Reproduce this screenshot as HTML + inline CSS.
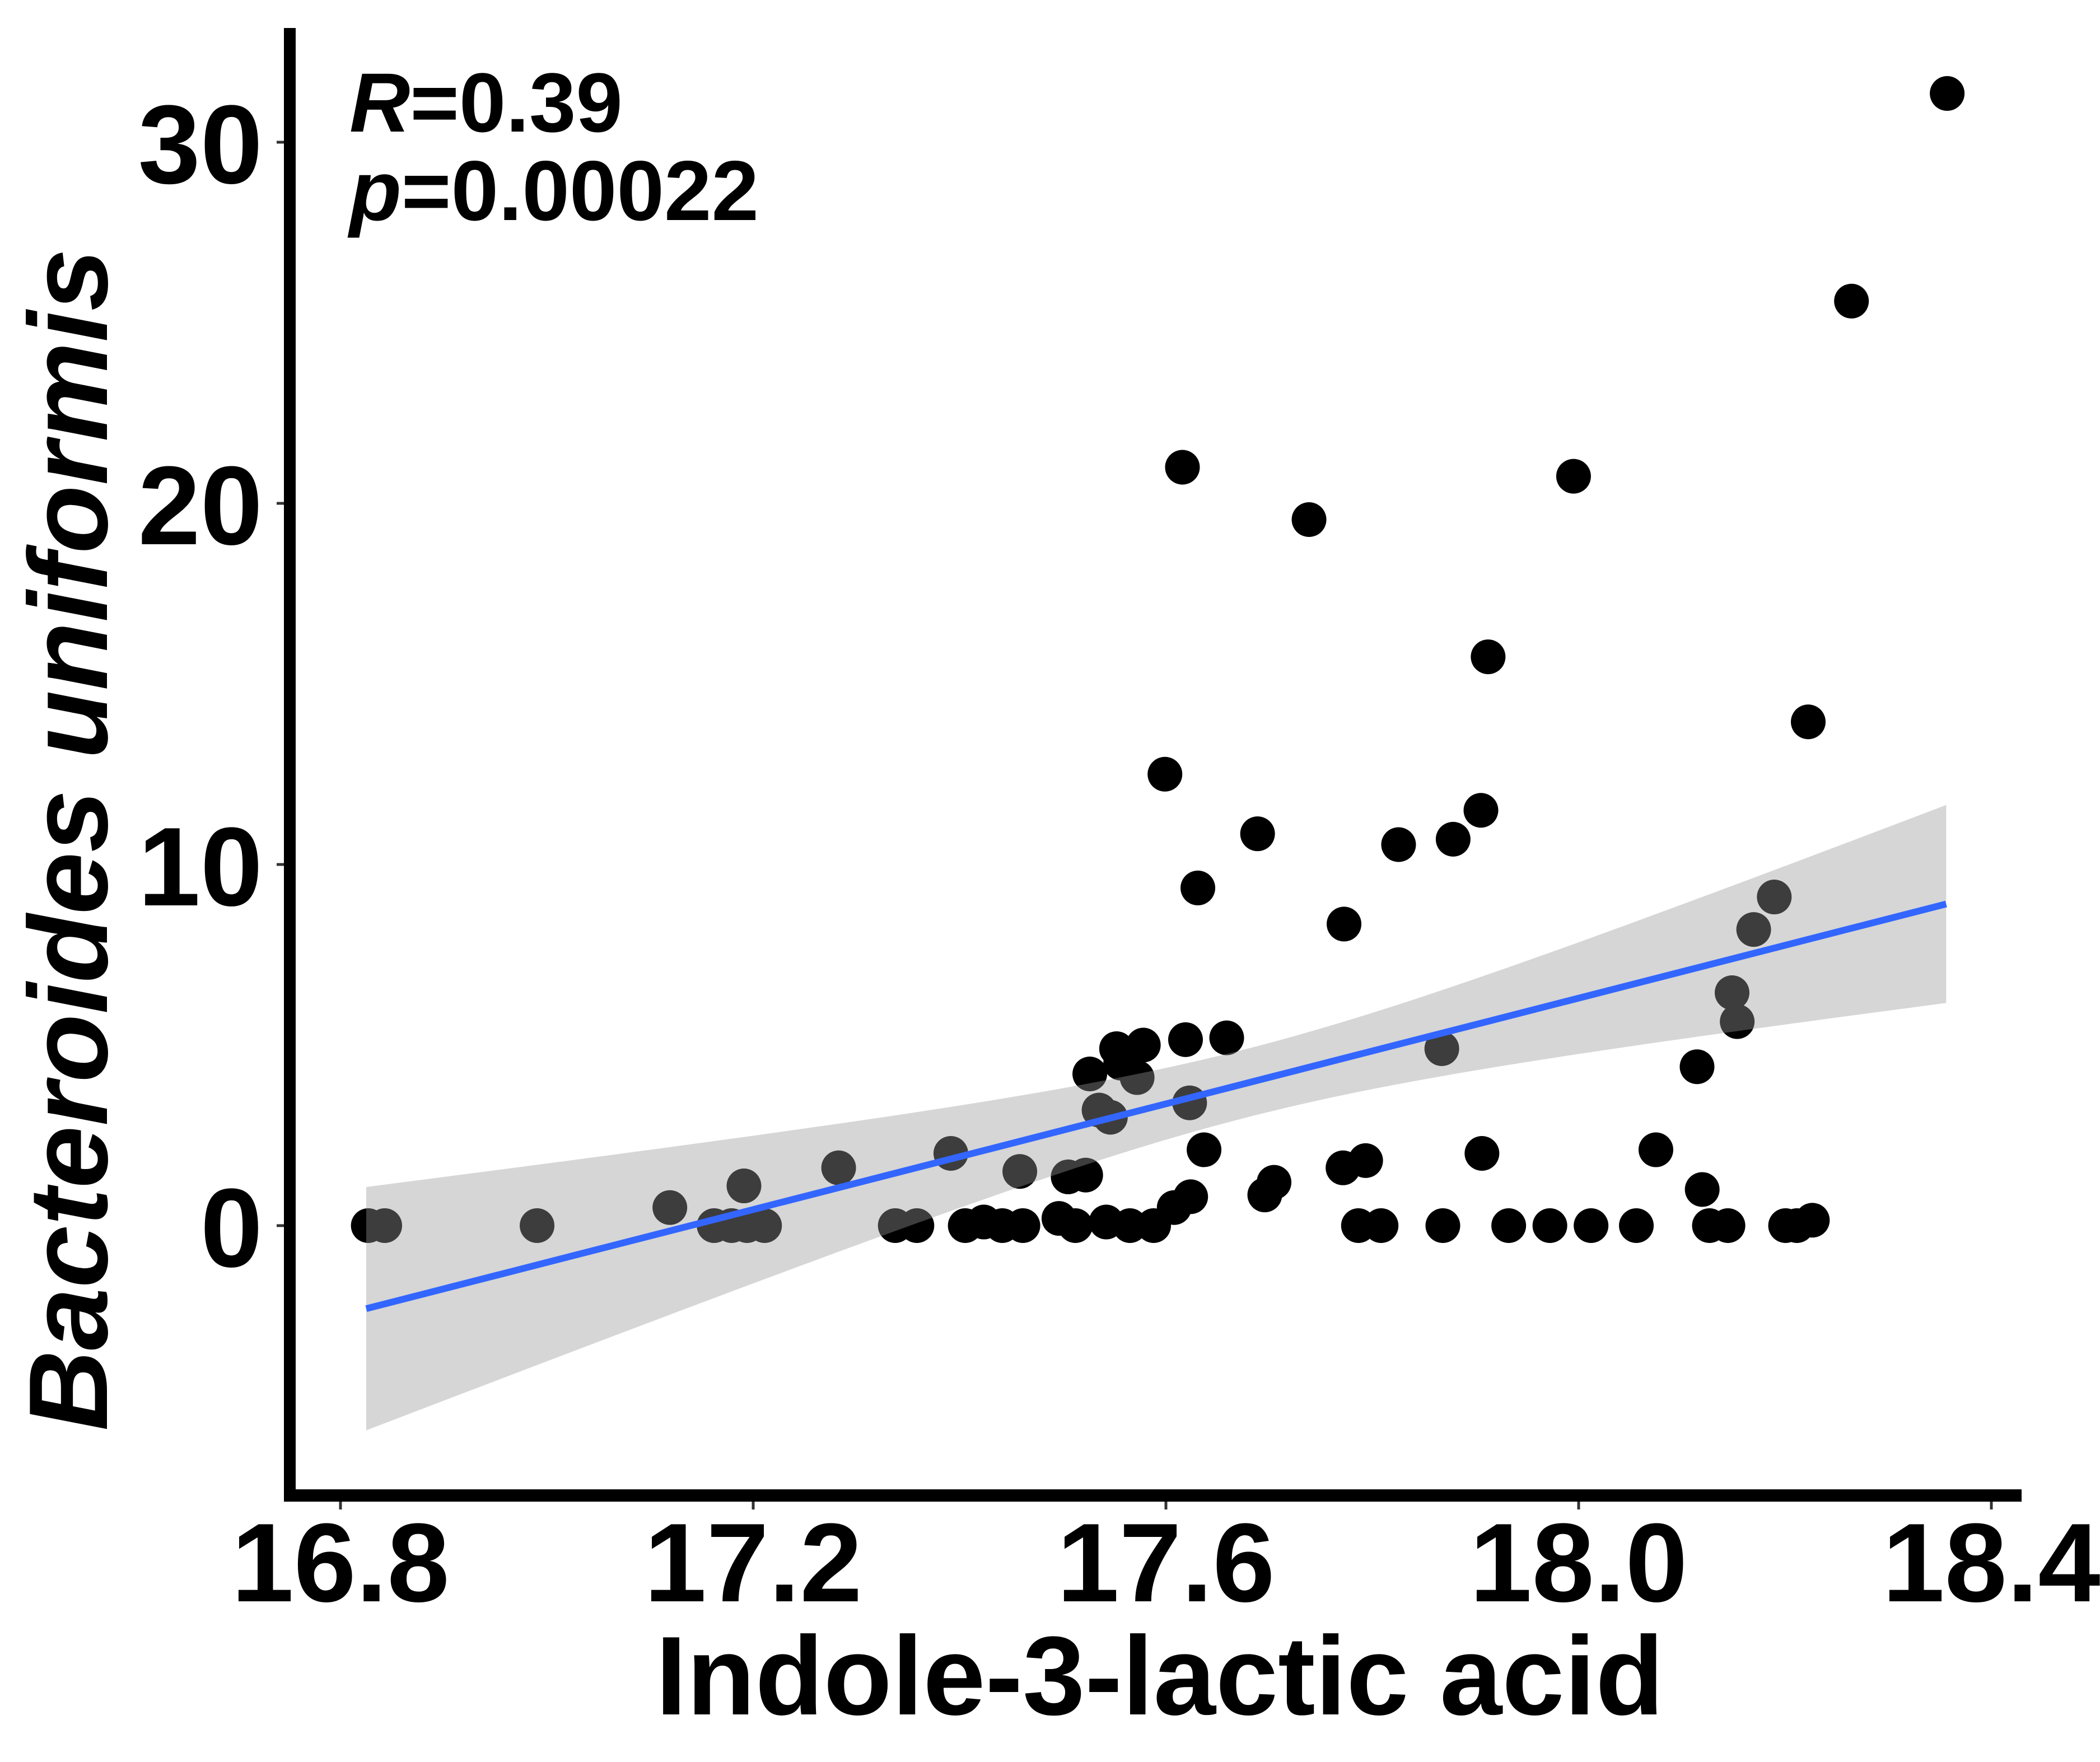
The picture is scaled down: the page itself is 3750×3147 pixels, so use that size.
<!DOCTYPE html>
<html><head><meta charset="utf-8"><style>
html,body{margin:0;padding:0;background:#fff;}
svg{display:block;font-family:"Liberation Sans",Arial,sans-serif;}
</style></head><body>
<svg id="chart" width="3750" height="3147" viewBox="0 0 3750 3147" xmlns="http://www.w3.org/2000/svg">
<rect width="3750" height="3147" fill="#fff"/>
<g id="points"></g>
<path id="band" fill="rgba(153,153,153,0.4)" stroke="none"/>
<line id="fit" stroke="#3366FF" stroke-width="12"/>
<g id="axes"></g>
<text x="624" y="235" font-size="150" font-weight="bold"><tspan font-style="italic">R</tspan>=0.39</text>
<text x="624" y="393" font-size="152" font-weight="bold"><tspan font-style="italic">p</tspan>=0.00022</text>
<text x="2071" y="3062" font-size="200" font-weight="bold" text-anchor="middle">Indole-3-lactic acid</text>
<text transform="translate(191,1500) rotate(-90)" font-size="200" font-weight="bold" font-style="italic" text-anchor="middle">Bacteroides uniformis</text>
</svg>
<script>
const xValues = [16.827,16.843,16.991,17.120,17.163,17.180,17.195,17.212,17.192,17.284,17.339,17.360,17.393,17.407,17.425,17.443,17.463,17.460,17.498,17.514,17.544,17.567,17.590,17.507,17.524,17.528,17.537,17.548,17.558,17.574,17.580,17.554,17.601,17.618,17.610,17.626,17.621,17.625,17.633,17.639,17.661,17.691,17.698,17.707,17.741,17.775,17.774,17.796,17.789,17.811,17.828,17.871,17.870,17.881,17.908,17.909,17.915,17.935,17.975,17.998,18.015,18.059,18.078,18.118,18.123,18.130,18.148,18.152,18.157,18.173,18.204,18.193,18.215,18.230,18.226,18.268,18.361];
const yValues = [0,0,0,0.5,0,0,0,0,1.1,1.6,0,0,2.0,0,0.1,0,0,1.5,0.2,0,0.1,0,0,1.35,1.4,4.2,3.2,3.0,4.5,4.1,5.0,4.9,12.5,21.0,0.5,0.8,5.15,3.4,9.35,2.1,5.2,10.85,0.85,1.2,19.55,8.35,1.6,1.8,0,0,10.55,0,4.9,10.7,11.5,2.0,15.75,0,0,20.75,0,0,2.1,4.4,1.0,0,0,6.45,5.65,8.2,0,9.1,0,0.15,13.95,25.6,31.35];
const xTicks = [16.8,17.2,17.6,18.0,18.4];
const xTickLabels = ["16.8","17.2","17.6","18.0","18.4"];
const yTicks = [0,10,20,30];
const yTickLabels = ["0","10","20","30"];
const fitRange = [16.825,18.36];
const fitIntercept = -2.3;
const fitSlope = 7.30;
const bandCenterX = 17.68;
const bandA = 0.9;
const bandB = 14.3;

const NS = "http://www.w3.org/2000/svg";
function X(v){return 608 + (v-16.8)*1838;}
function Y(v){return 2189 - v*64.5;}
function fitY(x){return fitIntercept + fitSlope*(x-fitRange[0]);}
function half(x){return Math.sqrt(bandA + bandB*(x-bandCenterX)*(x-bandCenterX));}

const pg = document.getElementById('points');
for(let i=0;i<xValues.length;i++){
  const c = document.createElementNS(NS,'circle');
  c.setAttribute('cx',X(xValues[i]));
  c.setAttribute('cy',Y(yValues[i]));
  c.setAttribute('r',31);
  c.setAttribute('fill','#000');
  
  
  pg.appendChild(c);
}
let up=[],lo=[];
for(let k=0;k<=80;k++){
  const x = fitRange[0] + (fitRange[1]-fitRange[0])*k/80;
  up.push(X(x)+','+Y(fitY(x)+half(x)));
  lo.push(X(x)+','+Y(fitY(x)-half(x)));
}
document.getElementById('band').setAttribute('d','M'+up.join('L')+'L'+lo.reverse().join('L')+'Z');
const fl = document.getElementById('fit');
fl.setAttribute('x1',X(fitRange[0]));fl.setAttribute('y1',Y(fitY(fitRange[0])));
fl.setAttribute('x2',X(fitRange[1]));fl.setAttribute('y2',Y(fitY(fitRange[1])));

const ax = document.getElementById('axes');
function el(tag,attrs){const e=document.createElementNS(NS,tag);for(const k in attrs)e.setAttribute(k,attrs[k]);ax.appendChild(e);return e;}
let e;
e = el('rect',{x:507,y:50,width:21,height:2632,fill:'#000'});


e = el('rect',{x:507,y:2660,width:3103,height:22,fill:'#000'});


for(let i=0;i<xTicks.length;i++){
  const x = 608 + (xTicks[i]-16.8)*1842.5;
  e = el('line',{x1:x,y1:2682,x2:x,y2:2696,stroke:'#333','stroke-width':5});
  
  
  e = el('text',{x:x,y:2860,'font-size':200,'font-weight':'bold','text-anchor':'middle'});
  e.textContent = xTickLabels[i];
  
  
}
for(let i=0;i<yTicks.length;i++){
  const y = Y(yTicks[i]);
  e = el('line',{x1:494,y1:y,x2:507,y2:y,stroke:'#333','stroke-width':5});
  
  
  e = el('text',{x:469,y:y+73,'font-size':200,'font-weight':'bold','text-anchor':'end'});
  e.textContent = yTickLabels[i];
  
  
}
</script>
</body></html>
